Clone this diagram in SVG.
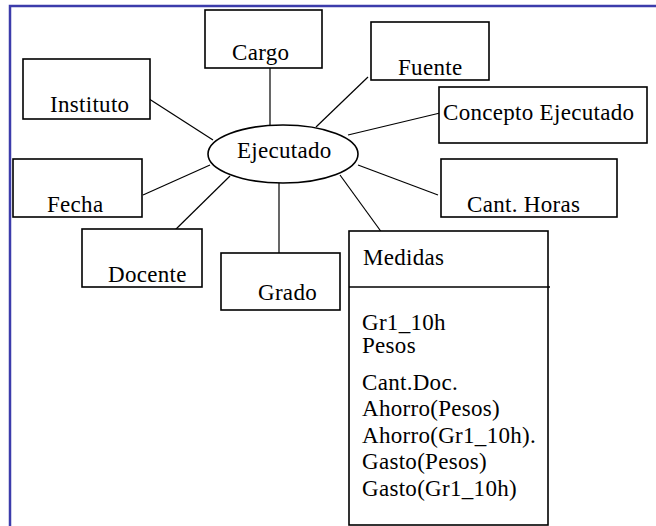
<svg xmlns="http://www.w3.org/2000/svg" width="656" height="526" viewBox="0 0 656 526">
  <style>
    .frame { stroke: #3c3cab; stroke-width: 2.5; fill: none; }
    .box { fill: #ffffff; stroke: #000000; stroke-width: 1.6; }
    .link { stroke: #000000; stroke-width: 1.2; fill: none; }
    text { font-family: 'Liberation Serif', 'Times New Roman', Times, 'DejaVu Serif', serif; font-size: 23px; letter-spacing: 0.3px; fill: #000000; }
  </style>
  <rect width="656" height="526" fill="#ffffff"/>

  <!-- page frame (top and left edges) -->
  <path class="frame" d="M10 526 V6 H656"/>

  <!-- connectors from the central fact to each dimension -->
  <g id="connectors">
    <line class="link" x1="270" y1="68" x2="270" y2="125"/>
    <line class="link" x1="143" y1="95" x2="213" y2="140"/>
    <line class="link" x1="143" y1="195" x2="210" y2="165"/>
    <line class="link" x1="172" y1="233" x2="230" y2="176"/>
    <line class="link" x1="279" y1="183" x2="279" y2="253"/>
    <line class="link" x1="340" y1="175" x2="385" y2="237"/>
    <line class="link" x1="358" y1="165" x2="438" y2="195"/>
    <line class="link" x1="348" y1="135" x2="440" y2="113"/>
    <line class="link" x1="316" y1="127" x2="368" y2="77"/>
  </g>

  <g id="ejecutado">
    <ellipse class="box" cx="283" cy="154" rx="75" ry="29"/>
    <text x="237" y="158">Ejecutado</text>
  </g>

  <g id="cargo">
    <rect class="box" x="205" y="10" width="117" height="58"/>
    <text x="232" y="60">Cargo</text>
  </g>

  <g id="instituto">
    <rect class="box" x="23" y="59" width="127" height="60"/>
    <text x="50" y="112">Instituto</text>
  </g>

  <g id="fuente">
    <rect class="box" x="371" y="22" width="118" height="58"/>
    <text x="398" y="75">Fuente</text>
  </g>

  <g id="concepto">
    <rect class="box" x="439" y="87" width="208" height="56"/>
    <text x="443" y="120">Concepto Ejecutado</text>
  </g>

  <g id="fecha">
    <rect class="box" x="13" y="159" width="129" height="58"/>
    <text x="47" y="212">Fecha</text>
  </g>

  <g id="cant-horas">
    <rect class="box" x="441" y="159" width="176" height="58"/>
    <text x="467" y="212">Cant. Horas</text>
  </g>

  <g id="docente">
    <rect class="box" x="82" y="229" width="120" height="58"/>
    <text x="108" y="282">Docente</text>
  </g>

  <g id="grado">
    <rect class="box" x="221" y="253" width="119" height="57"/>
    <text x="258" y="300">Grado</text>
  </g>

  <g id="medidas">
    <rect class="box" x="349" y="231" width="199" height="294"/>
    <line class="box" x1="349" y1="287" x2="550" y2="287"/>
    <text x="363" y="265">Medidas</text>
    <text x="362" y="330">Gr1_10h</text>
    <text x="362" y="353">Pesos</text>
    <text x="362" y="390">Cant.Doc.</text>
    <text x="362" y="416">Ahorro(Pesos)</text>
    <text x="362" y="443">Ahorro(Gr1_10h).</text>
    <text x="362" y="469">Gasto(Pesos)</text>
    <text x="362" y="496">Gasto(Gr1_10h)</text>
  </g>
</svg>
